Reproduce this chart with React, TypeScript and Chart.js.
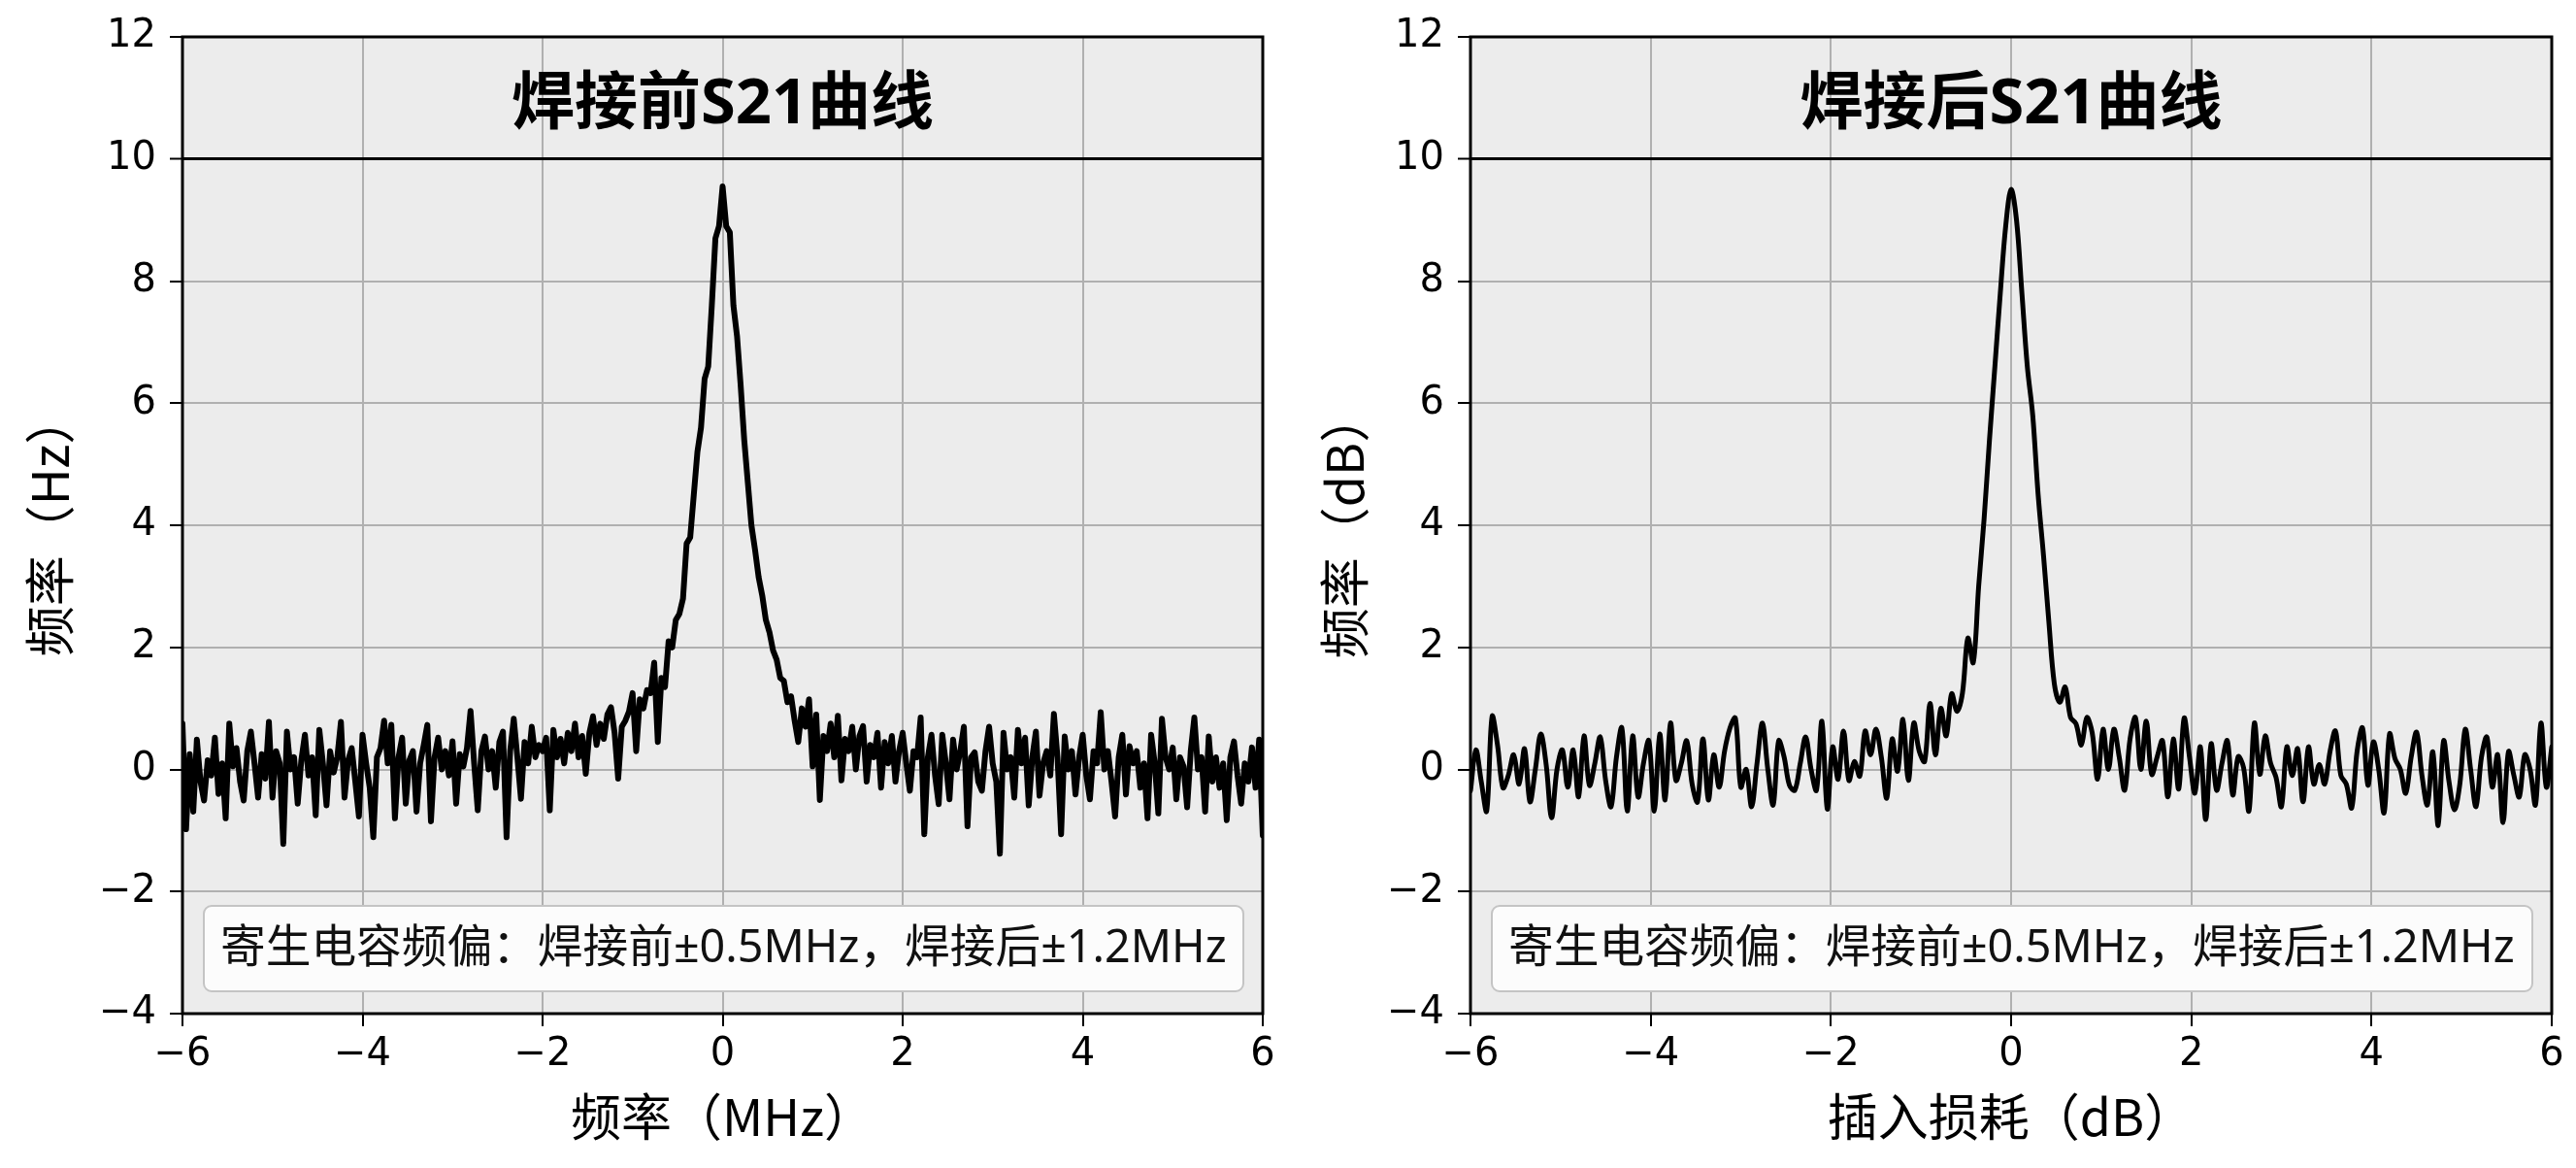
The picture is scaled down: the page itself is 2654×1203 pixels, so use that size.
import React, { useEffect, useRef } from 'react';
import { Chart, registerables } from 'chart.js';

Chart.register(...registerables);

// ---------- data ----------
const X_TICKS = [-6, -4, -2, 0, 2, 4, 6];
const Y_TICKS = [-4, -2, 0, 2, 4, 6, 8, 10, 12];
const BAND_LINE_VALUE = 10;

const PANEL_TITLES = ['焊接前S21曲线', '焊接后S21曲线'];
const X_AXIS_TITLES = ['频率（MHz）', '插入损耗（dB）'];
const Y_AXIS_TITLES = ['频率（Hz）', '频率（dB）'];
const NOTE_TEXT = '寄生电容频偏：焊接前±0.5MHz，焊接后±1.2MHz';

// sampling grids (frequency offset, MHz)
const BEFORE_X_START = -6;
const BEFORE_X_STEP = 0.04;
const AFTER_X_START = -6;
const AFTER_X_STEP = 0.06;

// S21 before soldering (x = -6 .. 6, step 0.04)
const BEFORE_S21 = [
  0.75, -0.98, 0.25, -0.69, 0.49, -0.2, -0.51, 0.15, -0.1, 0.52, -0.4, 0.1, -0.8, 0.75, 0.05, 0.35, -0.2, -0.51, 0.3, 0.62, 0.1, -0.46, 0.25, -0.15, 0.78,
  -0.46, 0.3, 0.1, -1.22, 0.62, 0.0, 0.2, -0.56, 0.15, 0.57, -0.1, 0.2, -0.75, 0.65, 0.1, -0.59, 0.3, -0.05, 0.2, 0.78, -0.46, 0.15, 0.35, -0.2, -0.77,
  0.57, 0.1, -0.3, -1.11, 0.2, 0.35, 0.8, 0.1, 0.73, -0.8, 0.2, 0.52, -0.56, 0.15, 0.3, -0.69, 0.1, 0.4, 0.73, -0.85, 0.2, 0.52, 0.0, 0.3, -0.1,
  0.46, -0.56, 0.25, 0.05, 0.35, 0.96, 0.1, -0.67, 0.3, 0.54, 0.0, 0.3, -0.3, 0.45, 0.62, -1.11, 0.3, 0.83, 0.2, -0.48, 0.45, 0.1, 0.7, 0.2, 0.4,
  0.3, 0.52, -0.67, 0.65, 0.2, 0.5, 0.1, 0.6, 0.3, 0.75, 0.2, 0.55, -0.07, 0.6, 0.87, 0.4, 0.75, 0.5, 0.9, 1.02, 0.6, -0.15, 0.7, 0.8, 0.95,
  1.25, 0.3, 1.15, 1.0, 1.3, 1.25, 1.75, 0.45, 1.5, 1.35, 2.1, 2.0, 2.45, 2.55, 2.8, 3.7, 3.8, 4.5, 5.2, 5.6, 6.4, 6.6, 7.6, 8.7, 8.9,
  9.55, 8.9, 8.8, 7.6, 7.1, 6.3, 5.4, 4.7, 4.0, 3.6, 3.15, 2.85, 2.45, 2.25, 1.95, 1.8, 1.5, 1.45, 1.1, 1.2, 0.8, 0.45, 1.0, 0.7, 1.15,
  0.05, 0.9, -0.5, 0.55, 0.3, 0.75, 0.2, 0.88, -0.18, 0.5, 0.3, 0.7, 0.0, 0.55, 0.71, -0.2, 0.4, 0.2, 0.6, -0.3, 0.45, 0.1, 0.55, -0.2, 0.3,
  0.6, 0.1, -0.35, 0.3, 0.2, 0.85, -1.06, 0.2, 0.57, -0.1, -0.57, 0.57, 0.1, -0.49, 0.49, 0.0, 0.3, 0.7, -0.93, 0.2, 0.28, -0.2, -0.35, 0.3, 0.7,
  0.1, -0.2, -1.38, 0.6, 0.0, 0.2, -0.46, 0.65, 0.1, 0.52, -0.59, 0.2, 0.62, -0.43, 0.1, 0.3, -0.1, 0.91, 0.2, -1.06, 0.54, 0.0, 0.3, -0.41, 0.2,
  0.57, -0.1, -0.49, 0.3, 0.1, 0.94, 0.0, 0.3, -0.2, -0.77, 0.2, 0.57, -0.41, 0.38, 0.1, 0.3, -0.3, 0.1, -0.8, 0.57, 0.1, -0.72, 0.83, 0.2, 0.0,
  0.36, -0.49, 0.2, 0.05, -0.62, 0.3, 0.85, 0.0, 0.2, -0.69, 0.54, -0.2, 0.2, -0.3, 0.1, -0.83, 0.2, 0.46, -0.1, -0.56, 0.1, -0.2, 0.36, -0.3, 0.49,
  -1.08,
];

// S21 after soldering (x = -6 .. 6, step 0.06)
const AFTER_S21 = [
  -0.35, 0.32, -0.2, -0.68, 0.87, 0.4, -0.3, -0.1, 0.24, -0.24,
  0.34, -0.53, 0.0, 0.58, 0.08, -0.79, 0.0, 0.32, -0.29, 0.32,
  -0.45, 0.55, -0.26, 0.1, 0.53, -0.18, -0.61, 0.2, 0.68, -0.68,
  0.55, -0.45, 0.1, 0.47, -0.68, 0.58, -0.5, 0.76, -0.18, 0.1,
  0.47, -0.24, -0.53, 0.5, -0.5, 0.24, -0.29, 0.3, 0.68, 0.84,
  -0.29, 0.0, -0.61, 0.1, 0.76, 0.0, -0.58, 0.47, 0.21, -0.26,
  -0.34, 0.1, 0.53, 0.0, -0.34, 0.79, -0.65, 0.37, -0.16, 0.63,
  -0.18, 0.13, -0.11, 0.63, 0.24, 0.66, 0.2, -0.47, 0.5, -0.03,
  0.82, -0.18, 0.76, 0.3, 0.13, 1.08, 0.24, 1.0, 0.55, 1.24,
  0.95, 1.25, 2.15, 1.75, 3.0, 4.1, 5.4, 6.6, 7.8, 8.9,
  9.5, 9.0, 7.8, 6.6, 5.8, 4.5, 3.5, 2.4, 1.4, 1.1,
  1.35, 0.85, 0.75, 0.4, 0.85, 0.6, -0.16, 0.66, 0.0, 0.66,
  0.2, -0.34, 0.5, 0.85, 0.0, 0.79, -0.08, 0.2, 0.47, -0.45,
  0.5, -0.32, 0.84, 0.2, -0.39, 0.37, -0.82, 0.42, -0.34, 0.1,
  0.47, -0.42, 0.21, 0.03, -0.68, 0.76, -0.08, 0.55, 0.1, -0.13,
  -0.61, 0.37, -0.1, 0.34, -0.53, 0.37, -0.24, 0.08, -0.24, 0.3,
  0.63, -0.1, -0.24, -0.63, 0.3, 0.68, -0.26, 0.45, 0.0, -0.71,
  0.58, 0.18, 0.0, -0.39, 0.2, 0.61, -0.1, -0.58, 0.29, -0.92,
  0.47, -0.2, -0.66, -0.24, 0.66, 0.0, -0.61, 0.2, 0.53, -0.29,
  0.24, -0.87, 0.29, -0.1, -0.45, 0.24, 0.0, -0.58, 0.76, -0.29,
  0.37,
];

// ---------- styling ----------
const CANVAS_W = 1327;
const CANVAS_H = 1203;
const TICK_FONT = 'DejaVu Sans';
const TEXT_FONT = '"Noto Sans", "Noto Sans CJK SC"';
const CJK_FONT = 'Noto Sans CJK SC';
const PLOT_BG = '#ececec';
const GRID_COLOR = '#b0b0b0';
const NOTE_TARGET_WIDTH = 1037;

const fmtTick = (v: number) => (v < 0 ? '\u2212' + Math.abs(v) : String(v));

const decorPlugin = {
  id: 'panelDecor',
  beforeDraw(chart: any) {
    const { ctx, chartArea: a } = chart;
    ctx.save();
    ctx.fillStyle = '#ffffff';
    ctx.fillRect(0, 0, chart.width, chart.height);
    ctx.fillStyle = PLOT_BG;
    ctx.fillRect(a.left, a.top, a.right - a.left, a.bottom - a.top);
    ctx.restore();
  },
  afterDraw(chart: any, _args: any, opts: any) {
    const { ctx, chartArea: a } = chart;
    const yScale = chart.scales.y;
    ctx.save();
    // frame
    ctx.strokeStyle = '#000';
    ctx.lineWidth = 3;
    ctx.strokeRect(a.left, a.top, a.right - a.left, a.bottom - a.top);

    // title inside top band
    const cx = (a.left + a.right) / 2;
    const bandMid = (yScale.getPixelForValue(Y_TICKS[Y_TICKS.length - 1]) + yScale.getPixelForValue(BAND_LINE_VALUE)) / 2;
    ctx.fillStyle = '#000';
    ctx.font = `bold 65px ${TEXT_FONT}`;
    ctx.textAlign = 'center';
    ctx.textBaseline = 'middle';
    ctx.fillText(opts.title, cx, bandMid + 8);

    // note box
    const bx = a.left + 22;
    const bw = a.right - a.left - 42;
    const bb = a.bottom - 23;
    const bh = 88;
    const by = bb - bh;
    const r = 8;
    ctx.beginPath();
    ctx.moveTo(bx + r, by);
    ctx.lineTo(bx + bw - r, by);
    ctx.arcTo(bx + bw, by, bx + bw, by + r, r);
    ctx.lineTo(bx + bw, by + bh - r);
    ctx.arcTo(bx + bw, by + bh, bx + bw - r, by + bh, r);
    ctx.lineTo(bx + r, by + bh);
    ctx.arcTo(bx, by + bh, bx, by + bh - r, r);
    ctx.lineTo(bx, by + r);
    ctx.arcTo(bx, by, bx + r, by, r);
    ctx.closePath();
    ctx.fillStyle = '#fcfcfc';
    ctx.fill();
    ctx.strokeStyle = '#c4c4c4';
    ctx.lineWidth = 2;
    ctx.stroke();

    let size = 47;
    ctx.font = `${size}px ${TEXT_FONT}`;
    const w = ctx.measureText(opts.note).width;
    if (w > 0) size = Math.min(50, Math.max(40, (size * NOTE_TARGET_WIDTH) / w));
    ctx.font = `${size}px ${TEXT_FONT}`;
    ctx.fillStyle = '#111';
    ctx.textAlign = 'left';
    ctx.textBaseline = 'middle';
    ctx.fillText(opts.note, bx + 17, by + bh / 2 + 1);
    ctx.restore();
  },
};

type PanelProps = {
  left: number;
  values: number[];
  start: number;
  step: number;
  title: string;
  xTitle: string;
  yTitle: string;
  lineWidth: number;
  tension: number;
  padRight: number;
  yTitlePad: number;
};

function Panel(p: PanelProps) {
  const ref = useRef<HTMLCanvasElement>(null);
  useEffect(() => {
    const canvas = ref.current;
    if (!canvas) return;
    const points = p.values.map((v, i) => ({ x: Math.round((p.start + i * p.step) * 100) / 100, y: v }));
    const chart = new Chart(canvas, {
      type: 'line',
      data: {
        datasets: [
          {
            data: points,
            borderColor: '#000',
            borderWidth: p.lineWidth,
            pointRadius: 0,
            tension: p.tension,
            borderJoinStyle: 'round',
            borderCapStyle: 'round',
            fill: false,
          },
        ],
      },
      options: {
        animation: false,
        responsive: false,
        devicePixelRatio: 1,
        layout: { padding: { top: 30, right: p.padRight, left: 0, bottom: 0 } },
        plugins: {
          legend: { display: false },
          tooltip: { enabled: false },
          panelDecor: { title: p.title, note: NOTE_TEXT },
        } as any,
        scales: {
          x: {
            type: 'linear',
            min: X_TICKS[0],
            max: X_TICKS[X_TICKS.length - 1],
            afterBuildTicks: (s: any) => {
              s.ticks = X_TICKS.map((v) => ({ value: v }));
            },
            afterFit: (s: any) => {
              s.height = 159;
            },
            ticks: {
              autoSkip: false,
              maxRotation: 0,
              padding: 6,
              color: '#000',
              font: { family: TICK_FONT, size: 40 },
              callback: (v: any) => fmtTick(Number(v)),
            },
            grid: { color: GRID_COLOR, lineWidth: 2, tickLength: 13, tickColor: '#000', tickWidth: 2 },
            border: { display: false },
            title: {
              display: true,
              text: p.xTitle,
              color: '#000',
              font: { family: CJK_FONT, size: 52 },
              padding: { top: 0, bottom: 22 },
            },
          },
          y: {
            type: 'linear',
            min: Y_TICKS[0],
            max: Y_TICKS[Y_TICKS.length - 1],
            afterBuildTicks: (s: any) => {
              s.ticks = Y_TICKS.map((v) => ({ value: v }));
            },
            afterFit: (s: any) => {
              s.width = 188;
            },
            ticks: {
              autoSkip: false,
              padding: 14,
              color: '#000',
              font: { family: TICK_FONT, size: 40 },
              callback: (v: any) => fmtTick(Number(v)),
            },
            grid: {
              color: (c: any) => (c.tick && c.tick.value === BAND_LINE_VALUE ? '#000' : GRID_COLOR),
              lineWidth: (c: any) => (c.tick && c.tick.value === BAND_LINE_VALUE ? 3 : 2),
              tickLength: 13,
              tickColor: '#000',
              tickWidth: 2,
            },
            border: { display: false },
            title: {
              display: true,
              text: p.yTitle,
              color: '#000',
              font: { family: CJK_FONT, size: 52 },
              padding: { top: p.yTitlePad, bottom: 0 },
            },
          },
        },
      } as any,
      plugins: [decorPlugin as any],
    });
    return () => chart.destroy();
  }, []);
  return (
    <canvas
      ref={ref}
      width={CANVAS_W}
      height={CANVAS_H}
      style={{ position: 'absolute', left: p.left, top: 0, width: CANVAS_W, height: CANVAS_H }}
    />
  );
}

export default function App() {
  return (
    <div style={{ position: 'absolute', left: 0, top: 0, width: 2654, height: 1203, background: '#fff', overflow: 'hidden' }}>
      <Panel
        left={0}
        values={BEFORE_S21}
        start={BEFORE_X_START}
        step={BEFORE_X_STEP}
        title={PANEL_TITLES[0]}
        xTitle={X_AXIS_TITLES[0]}
        yTitle={Y_AXIS_TITLES[0]}
        lineWidth={6}
        tension={0}
        padRight={26}
        yTitlePad={20}
      />
      <Panel
        left={1327}
        values={AFTER_S21}
        start={AFTER_X_START}
        step={AFTER_X_STEP}
        title={PANEL_TITLES[1]}
        xTitle={X_AXIS_TITLES[1]}
        yTitle={Y_AXIS_TITLES[1]}
        lineWidth={5}
        tension={0.35}
        padRight={25}
        yTitlePad={27}
      />
    </div>
  );
}
